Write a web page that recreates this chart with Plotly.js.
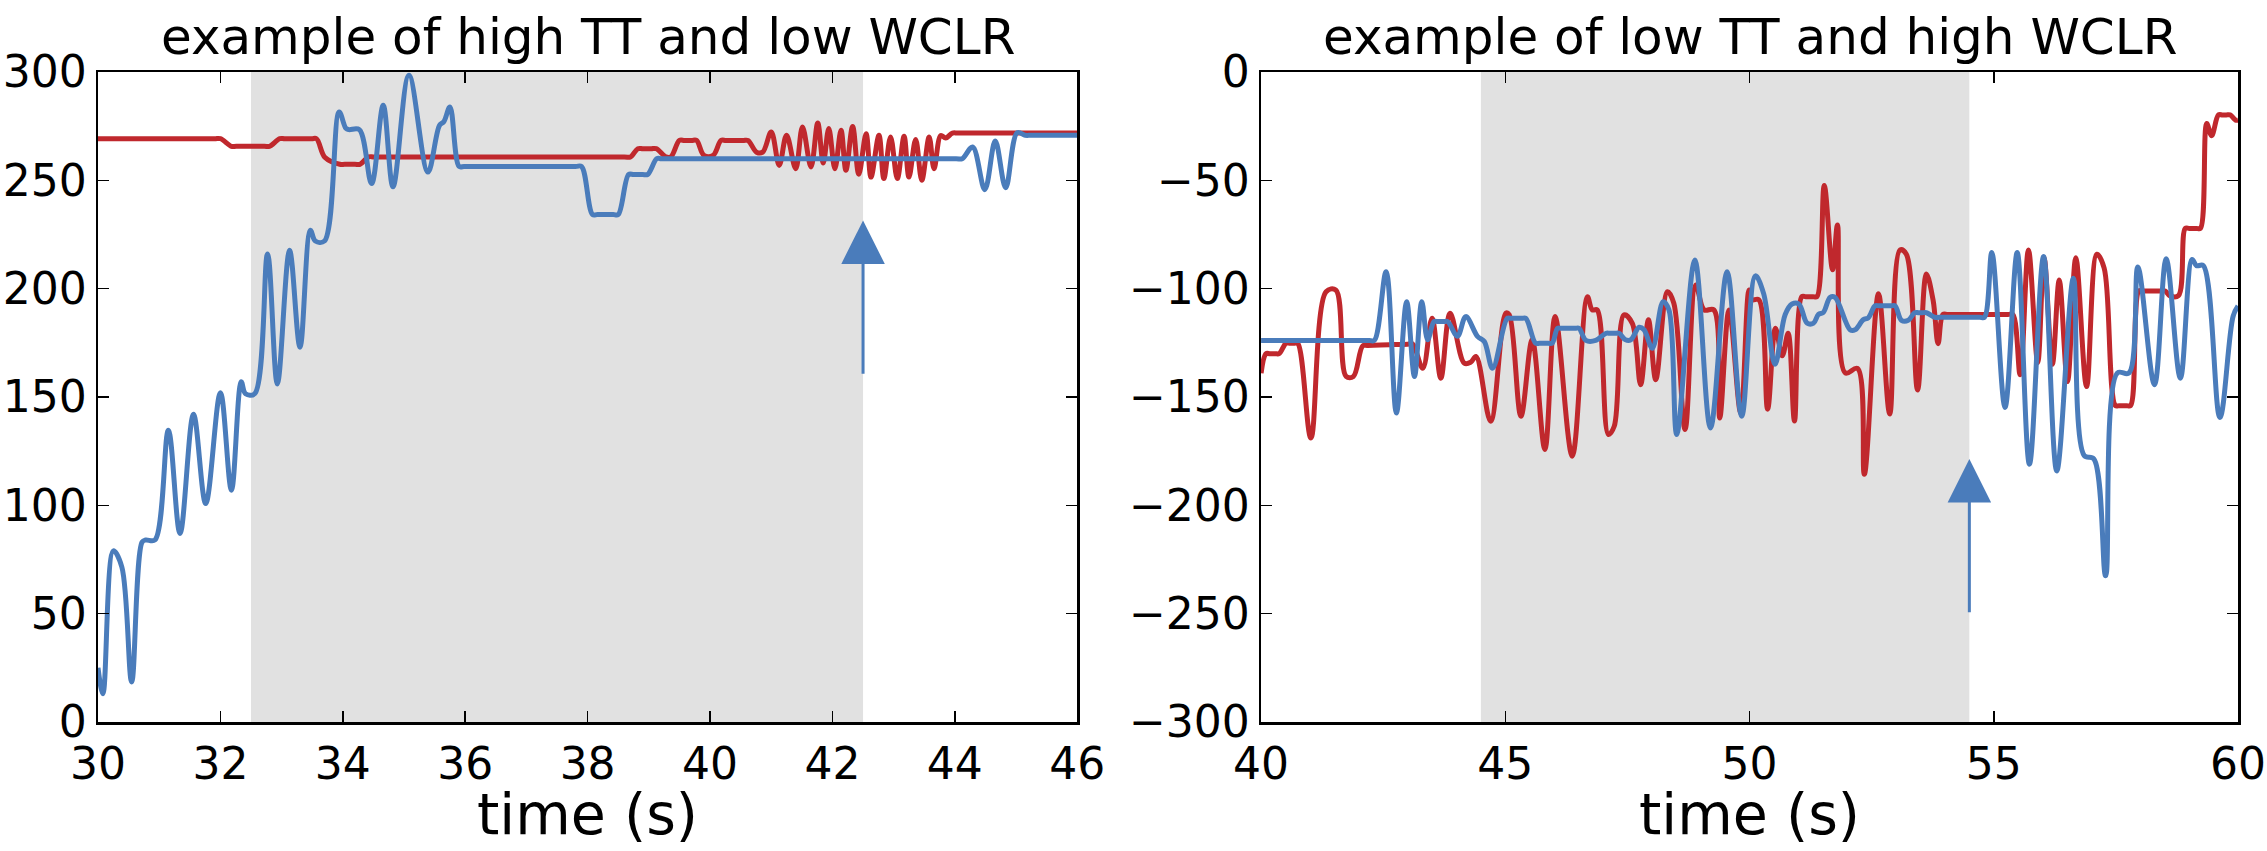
<!DOCTYPE html>
<html>
<head>
<meta charset="utf-8">
<script src="https://cdn.plot.ly/plotly-3.0.1.min.js"></script>
<style>
  body { margin: 0; background: #fff; }
  #chart { width: 2267px; height: 851px; }
</style>
</head>
<body>
<div id="chart"></div>
<script>
// colours
const red = "#c0282d";
const blue = "#4a7cbb";
const shade = "#e1e1e1";

const titles = ["example of high TT and low WCLR", "example of low TT and high WCLR"];
const xLabel = "time (s)";

// left panel: high TT, low WCLR  ([time, value])
const hiRange = [30, 46];
const hiYRange = [0, 300];
const hiShade = [32.5, 42.5];
const hiRed = [
  [30.00, 269.2], [31.90, 269.2], [32.00, 269.2], [32.18, 265.7], [32.26, 265.7], [32.72, 265.7], [32.80, 265.7],
  [32.97, 269.2], [33.05, 269.2], [33.49, 269.2], [33.57, 269.2], [33.71, 260.5], [33.95, 257.4], [34.03, 257.4],
  [34.20, 257.4], [34.28, 257.4], [34.42, 260.8], [34.52, 260.8], [38.60, 260.8], [38.70, 260.8], [38.82, 264.6],
  [38.90, 264.6], [39.04, 264.6], [39.12, 264.6], [39.28, 260.8], [39.36, 260.8], [39.50, 268.4], [39.58, 268.4],
  [39.70, 268.4], [39.78, 268.4], [39.90, 261.5], [40.05, 261.5], [40.18, 268.4], [40.26, 268.4], [40.54, 268.4],
  [40.62, 268.4], [40.76, 263.0], [40.86, 263.0], [41.00, 272.3], [41.13, 256.9], [41.25, 270.8], [41.40, 255.4],
  [41.51, 274.6], [41.65, 256.2], [41.76, 276.5], [41.85, 258.0], [41.94, 273.9], [42.04, 255.4], [42.14, 273.1],
  [42.22, 254.6], [42.33, 274.9], [42.43, 252.8], [42.55, 271.5], [42.63, 251.5], [42.76, 270.8], [42.84, 250.8],
  [42.95, 270.0], [43.06, 250.8], [43.17, 270.3], [43.25, 251.5], [43.36, 268.8], [43.46, 250.0], [43.58, 270.0],
  [43.66, 255.4], [43.77, 270.7], [43.85, 269.5], [43.96, 271.8], [44.06, 271.8], [45.90, 271.8], [46.00, 271.8],
];
const hiBlue = [
  [30.00, 25], [30.08, 13], [30.25, 79], [30.39, 71.5], [30.55, 18.5], [30.72, 83], [30.78, 84], [30.93, 84],
  [31.15, 134.6], [31.34, 87], [31.56, 142], [31.76, 100.8], [32.00, 152], [32.18, 107], [32.34, 157], [32.41, 151.5],
  [32.56, 151.5], [32.77, 216], [32.93, 156], [33.13, 217.7], [33.30, 173], [33.47, 227], [33.55, 222], [33.70, 222],
  [33.94, 281.5], [34.05, 274], [34.10, 273.4], [34.27, 273.4], [34.47, 248.5], [34.66, 284.6], [34.82, 247],
  [35.08, 298.5], [35.39, 253.8], [35.58, 275.4], [35.65, 277], [35.75, 283.8], [35.90, 256.4], [35.98, 256.4],
  [36.08, 256.4], [37.80, 256.4], [37.90, 256.4], [38.08, 234.2], [38.16, 234.2], [38.42, 234.2], [38.50, 234.2],
  [38.67, 252.7], [38.75, 252.7], [38.90, 252.7], [38.98, 252.7], [39.13, 260], [39.20, 260], [39.30, 260],
  [44.02, 260], [44.12, 260], [44.29, 265.4], [44.49, 245.7], [44.66, 268.1], [44.83, 246.6], [45.02, 272],
  [45.15, 270.8], [45.25, 270.8], [45.90, 270.8], [46.00, 270.8],
];

// right panel: low TT, high WCLR
const loRange = [40, 60];
const loYRange = [-300, 0];
const loShade = [44.5, 54.5];
const loRed = [
  [40.00, -139], [40.10, -130], [40.18, -130], [40.29, -130], [40.37, -130], [40.51, -125.2], [40.59, -125.2],
  [40.67, -125.2], [40.75, -125.2], [41.02, -168.9], [41.33, -101.4], [41.53, -100.6], [41.74, -140.5], [41.89, -140.5],
  [42.08, -126.4], [42.18, -126.2], [43.00, -125.6], [43.10, -125.5], [43.31, -136.7], [43.50, -113.7], [43.68, -141.3],
  [43.87, -111.3], [44.16, -134.4], [44.29, -134], [44.40, -131.3], [44.70, -161.2], [45.01, -111.3], [45.08, -112],
  [45.32, -158.9], [45.55, -123.6], [45.81, -174.2], [46.02, -112.9], [46.37, -177.3], [46.68, -103.7], [46.78, -109.8],
  [46.88, -109.8], [47.11, -167.3], [47.23, -163.5], [47.43, -112.1], [47.60, -116], [47.77, -144.3], [47.93, -114.4],
  [48.08, -142], [48.32, -101.4], [48.45, -106.7], [48.68, -165], [48.90, -98.3], [49.07, -109.8], [49.27, -109.8],
  [49.39, -159.7], [49.58, -109.8], [49.82, -157.4], [49.99, -100.6], [50.05, -105.1], [50.19, -105.1], [50.37, -155.6],
  [50.53, -118.3], [50.67, -131], [50.79, -120.6], [50.92, -161.1], [51.07, -103.7], [51.15, -103.7], [51.30, -103.7],
  [51.38, -103.7], [51.53, -52.4], [51.70, -91.3], [51.80, -70.6], [51.96, -138.9], [52.21, -136.8], [52.35, -185.7],
  [52.64, -102.4], [52.87, -157.9], [53.08, -82.1], [53.21, -84.1], [53.44, -146.8], [53.62, -93.2], [53.76, -105.6],
  [53.86, -125.4], [53.96, -111.9], [54.06, -111.9], [55.29, -111.9], [55.39, -111.9], [55.54, -139.7], [55.71, -82.1],
  [55.90, -134.1], [56.03, -85.7], [56.20, -134.9], [56.34, -96], [56.51, -142.9], [56.68, -85.7], [56.90, -145.2],
  [57.11, -84.1], [57.26, -90.5], [57.49, -154], [57.57, -154], [57.72, -154], [57.80, -154], [57.97, -101.1],
  [58.05, -101.1], [58.43, -101.1], [58.51, -101.1], [58.60, -103.2], [58.78, -103.2], [58.92, -72.2], [59.00, -72.2],
  [59.15, -72.2], [59.23, -72.2], [59.36, -23.8], [59.46, -29.4], [59.60, -19.8], [59.68, -19.8], [59.76, -19.8],
  [59.84, -19.8], [59.95, -22.2], [60.00, -22.2],
];
const loBlue = [
  [40.00, -123.9], [40.10, -123.9], [42.22, -123.9], [42.32, -123.9], [42.56, -92.2], [42.77, -157.4], [42.98, -106],
  [43.14, -140.5], [43.29, -106], [43.41, -123.6], [43.54, -115.2], [43.62, -115.2], [43.74, -115.2], [43.82, -115.2],
  [44.02, -122], [44.19, -112.9], [44.43, -122], [44.57, -124.4], [44.74, -136.7], [45.04, -113.7], [45.12, -113.7],
  [45.34, -113.7], [45.42, -113.7], [45.62, -125.2], [45.70, -125.2], [45.88, -125.2], [45.96, -125.2], [46.07, -118.3],
  [46.15, -118.3], [46.43, -118.3], [46.51, -118.3], [46.65, -123.9], [46.85, -123.9], [47.06, -120.6], [47.14, -120.6],
  [47.25, -120.6], [47.33, -120.6], [47.46, -123.6], [47.57, -123.6], [47.74, -117.8], [47.84, -119], [48.01, -127.5],
  [48.23, -106], [48.35, -109.8], [48.51, -167.3], [48.88, -86.8], [49.20, -164.3], [49.54, -92.2], [49.84, -158.9],
  [50.12, -94.1], [50.29, -102.4], [50.52, -134.9], [50.73, -111.9], [50.87, -107.1], [51.01, -107.1], [51.18, -115.9],
  [51.31, -115.9], [51.41, -111.9], [51.51, -111], [51.65, -104], [51.75, -104], [52.06, -119], [52.16, -119],
  [52.33, -114.3], [52.43, -113.5], [52.57, -107.9], [52.65, -107.9], [52.90, -107.9], [52.98, -107.9], [53.11, -114.6],
  [53.25, -114.6], [53.38, -111.1], [53.46, -111.1], [53.54, -111.1], [53.62, -111.1], [53.79, -113.2], [53.89, -113.2],
  [54.71, -113.2], [54.81, -113.2], [54.96, -83.3], [55.23, -154.8], [55.48, -83.3], [55.73, -181], [56.02, -85.2],
  [56.29, -184.1], [56.63, -95.2], [56.85, -177], [57.05, -178.6], [57.29, -232.5], [57.53, -138.9], [57.77, -138.9],
  [57.95, -90], [58.29, -144.4], [58.53, -86.2], [58.82, -141.3], [59.06, -86.5], [59.15, -89.4], [59.29, -89.4],
  [59.63, -159.5], [59.90, -112.7], [60.00, -108],
];

// arrows: x position, tail value, tip value
const arrowX = [42.5, 54.5];
const arrowTail = [160, -250];
const arrowTip = [231.5, -178.6];

function line(pts, color, xa, ya) {
  return {
    x: pts.map((p) => p[0]),
    y: pts.map((p) => p[1]),
    xaxis: xa, yaxis: ya,
    type: "scatter", mode: "lines",
    line: { color: color, width: 5, shape: "spline", smoothing: 1 },
    hoverinfo: "skip", showlegend: false,
  };
}

function axis(range, dtick, domain, anchor, extra) {
  return Object.assign({
    range: range, dtick: dtick, domain: domain, anchor: anchor,
    showline: true, linecolor: "black", linewidth: 2.5, mirror: "ticks",
    ticks: "inside", ticklen: 11, tickwidth: 1.5, tickcolor: "black",
    showgrid: false, zeroline: false, fixedrange: true,
    tickfont: { family: "DejaVu Sans", size: 44, color: "black" },
  }, extra || {});
}

const data = [
  line(hiRed, red, "x", "y"),
  line(hiBlue, blue, "x", "y"),
  line(loRed, red, "x2", "y2"),
  line(loBlue, blue, "x2", "y2"),
];

const layout = {
  width: 2267, height: 851,
  margin: { l: 98, r: 29, t: 72, b: 129 },
  paper_bgcolor: "white", plot_bgcolor: "white",
  xaxis: axis(hiRange, 2, [0, 0.4576], "y", { ticklabelstandoff: 2 }),
  yaxis: axis(hiYRange, 50, [0, 1], "x"),
  xaxis2: axis(loRange, 5, [0.5435, 1], "y2", { ticklabelstandoff: 2 }),
  yaxis2: axis(loYRange, 50, [0, 1], "x2"),
  shapes: [
    { type: "rect", xref: "x", yref: "y domain", x0: hiShade[0], x1: hiShade[1], y0: 0, y1: 1,
      fillcolor: shade, line: { width: 0 }, layer: "below" },
    { type: "rect", xref: "x2", yref: "y2 domain", x0: loShade[0], x1: loShade[1], y0: 0, y1: 1,
      fillcolor: shade, line: { width: 0 }, layer: "below" },
  ],
  annotations: [
    ...titles.map((txt, i) => ({
      text: txt, showarrow: false,
      xref: i ? "x2 domain" : "x domain", yref: i ? "y2 domain" : "y domain",
      x: 0.5, y: 1, xanchor: "center", yanchor: "bottom", yshift: 4,
      font: { family: "DejaVu Sans", size: 50, color: "black" },
    })),
    // x-axis labels, placed in the bottom margin
    ...titles.map((_, i) => ({
      text: xLabel, showarrow: false,
      xref: i ? "x2 domain" : "x domain", yref: i ? "y2 domain" : "y domain",
      x: 0.5, y: 0, xanchor: "center", yanchor: "bottom", yshift: -127,
      font: { family: "DejaVu Sans", size: 57, color: "black" },
    })),
    ...arrowX.map((ax, i) => ({
      text: "", showarrow: true,
      xref: i ? "x2" : "x", yref: i ? "y2" : "y",
      axref: i ? "x2" : "x", ayref: i ? "y2" : "y",
      x: ax, y: arrowTip[i], ax: ax, ay: arrowTail[i],
      arrowhead: 2, arrowsize: 2.9, arrowwidth: 3, arrowcolor: blue, standoff: 0,
    })),
  ],
};

Plotly.newPlot("chart", data, layout, { staticPlot: true, displayModeBar: false });
</script>
</body>
</html>
